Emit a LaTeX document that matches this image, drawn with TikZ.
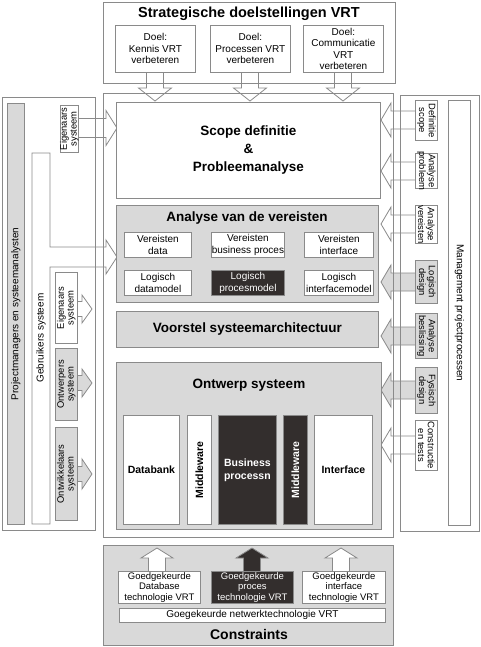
\documentclass[tikz,border=0pt]{standalone}
\usepackage{fontspec}
\setmainfont{Liberation Sans}
\definecolor{lc}{HTML}{8A8A8A}
\definecolor{lg}{HTML}{D9D9D9}
\definecolor{dk}{HTML}{332E2D}
\newcommand\bx[7]{\node[#2,anchor=north west,minimum width={(#5-#3)*1pt},minimum height={(#6-#4)*1pt},inner sep=0pt,align=center] (#1) at (#3,#4) {#7};}
% horizontal block arrow: x start, x head base, x tip, y centre, shaft half, head half, fill
\newcommand\blkarrowH[7]{\filldraw[ln,fill=#7] (#1,#4-#5) -- (#2,#4-#5) -- (#2,#4-#6) -- (#3,#4) -- (#2,#4+#6) -- (#2,#4+#5) -- (#1,#4+#5);}
% vertical block arrow: y start, y head base, y tip, x centre, shaft half, head half, fill
\newcommand\blkarrowV[7]{\filldraw[ln,fill=#7] (#4-#5,#1) -- (#4-#5,#2) -- (#4-#6,#2) -- (#4,#3) -- (#4+#6,#2) -- (#4+#5,#2) -- (#4+#5,#1);}
\begin{document}
\begin{tikzpicture}[x=1pt,y=-1pt,
 ln/.style={draw=lc,line width=0.8pt},
 wbox/.style={ln,fill=white},
 gbox/.style={ln,fill=lg},
 dbox/.style={ln,fill=dk,text=white},
 frm/.style={ln},
 sm/.style={font=\fontsize{10}{11.5}\selectfont,align=center,inner sep=0pt},
 cs/.style={font=\fontsize{9.5}{10.6}\selectfont,align=center,inner sep=0pt},
 rs/.style={font=\fontsize{9.4}{9.8}\selectfont,align=center,inner sep=0pt},
 ttl/.style={font=\fontsize{13.5}{18}\selectfont\bfseries,align=center,inner sep=0pt},
 bsm/.style={font=\fontsize{10.5}{13}\selectfont\bfseries,align=center,inner sep=0pt}]
\useasboundingbox (0,0) rectangle (480,647);

% constraints background
\bx{cons}{gbox}{103}{545}{393}{645}{}

% block arrows
\blkarrowV{70}{88}{101}{155}{8.5}{16.5}{white}
\blkarrowV{70}{88}{101}{250}{8.5}{16.5}{white}
\blkarrowV{70}{88}{101}{343}{8.5}{16.5}{white}
\blkarrowV{572}{558}{548}{157}{8.5}{16}{white}
\blkarrowV{572}{558}{548}{252}{8.5}{16}{dk}
\blkarrowV{572}{558}{548}{341}{8.5}{16}{white}
\blkarrowH{78}{106}{117}{128}{9.5}{17.5}{white}
\blkarrowH{77}{82}{92}{309}{7.5}{14}{white}
\blkarrowH{77}{82}{92}{383}{7.5}{14}{lg}
\blkarrowH{77}{82}{92}{474}{7.5}{15}{lg}
\filldraw[ln,fill=white] (32,153) -- (50,153) -- (50,247) -- (106,247) -- (106,240) -- (117,257) -- (106,274) -- (106,267) -- (50,267) -- (50,524) -- (32,524) -- cycle;
\blkarrowH{415}{391}{381}{120}{9}{17}{white}
\blkarrowH{415}{391}{381}{171}{9}{17}{white}
\blkarrowH{415}{391}{381}{224}{9}{17}{white}
\blkarrowH{415}{391}{381}{282}{9}{17}{lg}
\blkarrowH{415}{391}{381}{336}{9}{17}{lg}
\blkarrowH{415}{391}{381}{390}{9}{17}{lg}
\blkarrowH{415}{391}{381}{445}{9}{17}{white}

% top goals
\bx{g1}{wbox,sm}{115}{25}{195}{72}{Doel:\\Kennis VRT\\verbeteren}
\bx{g2}{wbox,sm}{210}{25}{290}{72}{Doel:\\Processen VRT\\verbeteren}
\bx{g3}{wbox,sm}{303}{25}{383}{72}{Doel:\\Communicatie\\VRT\\verbeteren}

% central column
\bx{scope}{wbox,ttl}{116}{102}{380}{198}{Scope definitie\\\&\\Probleemanalyse}
\bx{anal}{gbox}{116}{205}{378}{302}{}
\bx{va}{wbox,sm}{124}{232}{191}{257}{Vereisten\\data}
\bx{vb}{wbox,sm}{211}{232}{284}{257}{Vereisten\\business proces}
\bx{vc}{wbox,sm}{304}{232}{373}{257}{Vereisten\\interface}
\bx{la}{wbox,sm}{124}{270}{191}{295}{Logisch\\datamodel}
\bx{lb}{dbox,sm}{211}{270}{284}{295}{Logisch\\procesmodel}
\bx{lcm}{wbox,sm}{304}{270}{373}{295}{Logisch\\interfacemodel}
\bx{voor}{gbox,ttl}{116}{311}{378}{347}{Voorstel systeemarchitectuur}
\bx{ontw}{gbox}{116}{362}{381}{529}{}
\bx{db}{wbox,bsm}{123}{415}{179}{524}{Databank}
\bx{mw1}{wbox}{187}{415}{211}{524}{}
\bx{bp}{dbox,bsm}{218}{415}{276}{524}{Business\\processn}
\bx{mw2}{dbox}{283}{415}{307}{524}{}
\bx{ifc}{wbox,bsm}{314}{415}{372}{524}{Interface}

% constraints
\bx{c1}{wbox,cs}{118}{571}{200}{603}{Goedgekeurde\\Database\\technologie VRT}
\bx{c2}{dbox,cs}{211}{571}{293}{603}{Goedgekeurde\\proces\\technologie VRT}
\bx{c3}{wbox,cs}{302}{571}{385}{603}{Goedgekeurde\\interface\\technologie VRT}
\bx{net}{wbox,sm}{119}{608}{385}{622}{Goegekeurde netwerktechnologie VRT}

% left side
\bx{pm}{gbox}{7}{103}{24}{524}{}
\bx{e1}{wbox}{60}{105}{78}{152}{}
\bx{e2}{wbox}{55}{272}{77}{343}{}
\bx{ow}{gbox}{55}{348}{77}{420}{}
\bx{dv}{gbox}{55}{427}{77}{520}{}

% right side
\bx{mgmt}{wbox}{448}{100}{470}{525}{}
\bx{r1}{wbox}{415}{100}{437}{140}{}
\bx{r2}{wbox}{415}{153}{437}{188}{}
\bx{r3}{wbox}{415}{205}{437}{243}{}
\bx{r4}{gbox}{415}{260}{437}{303}{}
\bx{r5}{gbox}{415}{313}{437}{358}{}
\bx{r6}{gbox}{415}{367}{437}{413}{}
\bx{r7}{wbox}{415}{420}{437}{470}{}

% frames
\bx{strat}{frm}{103}{2}{395}{83}{}
\bx{mid}{frm}{103}{93}{393}{537}{}
\bx{lft}{frm}{2}{97}{95}{530}{}
\bx{rgt}{frm}{400}{95}{479}{531}{}

% titles
\node[ttl,font=\fontsize{14.5}{18}\selectfont\bfseries] (tstrat) at (249,14) {Strategische doelstellingen VRT};
\node[ttl] (tanal) at (247,218) {Analyse van de vereisten};
\node[ttl] (tontw) at (249,385) {Ontwerp systeem};
\node[ttl,font=\fontsize{14}{18}\selectfont\bfseries] (tcons) at (249,634) {Constraints};

% rotated texts
\node[bsm,rotate=90] (tmw1) at (mw1.center) {Middleware};
\node[bsm,rotate=90,text=white] (tmw2) at (mw2.center) {Middleware};
\node[sm,rotate=90] (tpm) at (pm.center) {Projectmanagers en systeemanalysten};
\node[sm,rotate=90] (tgeb) at (41,338) {Gebruikers systeem};
\node[rs,rotate=90] (te1) at (e1.center) {Eigenaars\\systeem};
\node[rs,rotate=90] (te2) at (e2.center) {Eigenaars\\systeem};
\node[rs,rotate=90] (tow) at (ow.center) {Ontwerpers\\systeem};
\node[rs,rotate=90] (tdv) at (dv.center) {Ontwikkelaars\\systeem};
\node[sm,rotate=-90] (tmgmt) at (mgmt.center) {Management projectprocessen};
\node[rs,rotate=-90] (tr1) at (r1.center) {Definitie\\scope};
\node[rs,rotate=-90] (tr2) at (r2.center) {Analyse\\probleem};
\node[rs,rotate=-90] (tr3) at (r3.center) {Analyse\\vereisten};
\node[rs,rotate=-90] (tr4) at (r4.center) {Logisch\\design};
\node[rs,rotate=-90] (tr5) at (r5.center) {Analyse\\beslissing};
\node[rs,rotate=-90] (tr6) at (r6.center) {Fysisch\\design};
\node[rs,rotate=-90] (tr7) at (r7.center) {Constructie\\en tests};
\end{tikzpicture}
\end{document}
